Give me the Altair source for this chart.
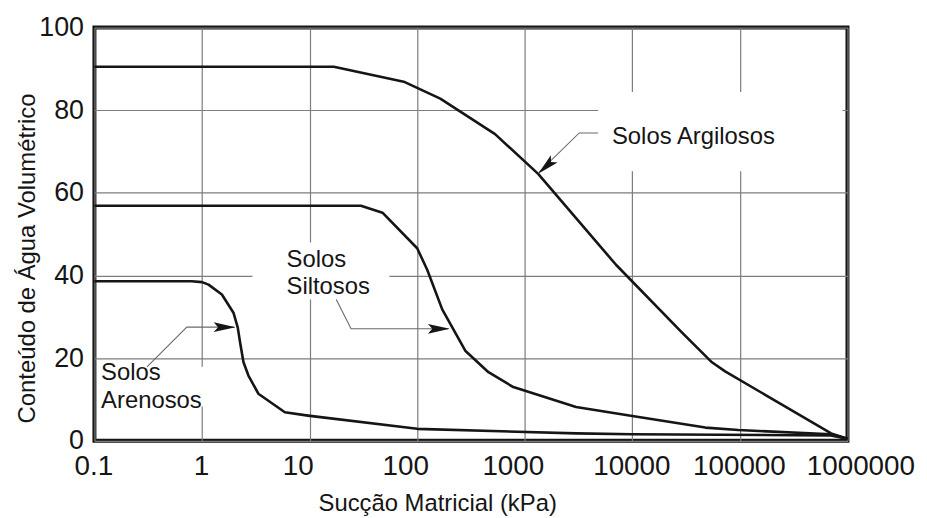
import altair as alt
import pandas as pd

# ---------------- data ----------------
arg_x = [0.1, 16.8, 75, 164, 530, 1333, 7050, 29000, 55000, 72900, 705000, 1000000]
arg_y = [90.5, 90.5, 86.9, 82.8, 74.2, 64.6, 42.6, 26.2, 19.0, 16.8, 1.8, 0.5]

sil_x = [0.1, 30, 47.6, 100, 124, 171, 280, 460, 783, 3000, 10000, 47700, 96900, 700000, 1000000]
sil_y = [56.9, 56.9, 55.2, 46.6, 41.4, 31.8, 21.8, 16.6, 13.0, 8.2, 6.0, 3.2, 2.6, 1.6, 0.5]

are_x = [0.1, 0.8, 1.0, 1.15, 1.53, 1.96, 2.15, 2.26, 2.43, 2.70, 3.34, 5.89, 9.66, 100, 3000, 10000, 700000, 1000000]
are_y = [38.6, 38.6, 38.4, 37.8, 35.4, 31.0, 27.4, 23.8, 19.0, 15.8, 11.4, 6.9, 6.1, 2.9, 1.8, 1.6, 1.3, 0.5]

x_ticks = [0.1, 1, 10, 100, 1000, 10000, 100000, 1000000]
y_ticks = [0, 20, 40, 60, 80, 100]

label_texts = ["Solos Argilosos", "Solos\nSiltosos", "Solos\nArenosos"]
label_x = [6470, 6.1, 0.1153]
label_y = [71.8, 42.1, 14.6]

# white boxes behind the labels (they interrupt the grid)
box_x1 = [4810, 2.94, 0.111]
box_x2 = [897000, 55.2, 1.04]
box_y1 = [65.2, 34.2, 8.3]
box_y2 = [84.4, 48.0, 17.9]

# leader lines
lead_names = ["Argilosos", "Argilosos", "Argilosos",
              "Siltosos", "Siltosos", "Siltosos",
              "Arenosos", "Arenosos", "Arenosos"]
lead_x = [4810, 3210, 1360, 17.7, 24.3, 195, 0.308, 0.722, 2.0]
lead_y = [74.5, 74.5, 65.0, 34.2, 27.1, 27.1, 17.9, 27.5, 27.5]

# arrow tips
tip_x = [1334, 201, 2.05]
tip_y = [64.6, 27.1, 27.5]
tip_angle = [137, 0, 0]

# ---------------- tables ----------------
rows = []
for name, xs, ys in [("Argilosos", arg_x, arg_y), ("Siltosos", sil_x, sil_y), ("Arenosos", are_x, are_y)]:
    for i, (a, b) in enumerate(zip(xs, ys)):
        rows.append({"serie": name, "i": i, "x": a, "y": b})
curves = pd.DataFrame(rows)

leaders = pd.DataFrame({"lead": lead_names, "i": list(range(len(lead_x))), "x": lead_x, "y": lead_y})
boxes = pd.DataFrame({"x": box_x1, "x2": box_x2, "y": box_y1, "y2": box_y2})
tips = pd.DataFrame({"x": tip_x, "y": tip_y, "ang": tip_angle})
labels = pd.DataFrame({"t": label_texts, "x": label_x, "y": label_y})

FONT = "Liberation Sans"
INK = "#151515"

x_scale = alt.Scale(type="log", domain=[0.1, 1000000], nice=False)
y_scale = alt.Scale(domain=[0, 100], nice=False, zero=True)

x_axis = alt.Axis(
    values=x_ticks, format="~f", title="Sucção Matricial (kPa)",
    labelFontSize=28, labelPadding=12, labelFont=FONT, labelColor=INK,
    labelOffset={"condition": [{"test": "datum.value == 1000000", "value": 13},
                               {"test": "datum.value >= 10 && datum.value <= 1000", "value": -12}],
                 "value": -1},
    titleFontSize=24, titleFont=FONT, titleColor=INK, titleFontWeight="normal",
    titleX=345, titleY=70, titleAlign="center", titleBaseline="alphabetic",
    labelFlush=False, labelOverlap=False,
)
y_axis = alt.Axis(
    values=y_ticks, title="Conteúdo de Água Volumétrico",
    labelFontSize=27, labelPadding=11, labelFont=FONT, labelColor=INK,
    titleFontSize=24, titleFont=FONT, titleColor=INK, titleFontWeight="normal",
    titleX=-60, titleY=232, titleAlign="center", titleBaseline="alphabetic", titleAngle=-90,
    labelFlush=False, labelOverlap=False,
)

X = alt.X("x:Q", scale=x_scale, axis=x_axis)
Y = alt.Y("y:Q", scale=y_scale, axis=y_axis)

box_layer = alt.Chart(boxes).mark_rect(fill="white", stroke=None, opacity=1).encode(
    x=X, x2="x2:Q", y=Y, y2="y2:Q"
)

lead_layer = alt.Chart(leaders).mark_line(color="#6a6a6a", strokeWidth=1.1).encode(
    x=X, y=Y, detail="lead:N", order="i:Q"
)

curve_layer = alt.Chart(curves).mark_line(color=INK, strokeWidth=2.6, strokeJoin="round").encode(
    x=X, y=Y, detail="serie:N", order="i:Q"
)

tip_layer = alt.Chart(tips).mark_point(
    shape="M0,0 L-2,-0.45 L-1.6,0 L-2,0.45 Z", filled=True, size=484, color=INK,
    opacity=1, strokeWidth=0
).encode(x=X, y=Y, angle=alt.Angle("ang:Q", scale=None))

text_layer = alt.Chart(labels).mark_text(
    align="left", baseline="alphabetic", fontSize=24, font=FONT, color=INK,
    lineBreak="\n", lineHeight=27.5
).encode(x=X, y=Y, text="t:N")

chart = alt.layer(box_layer, lead_layer, curve_layer, tip_layer, text_layer).properties(
    width=758, height=416,
    autosize=alt.AutoSizeParams(type="none"),
    padding={"left": 87, "top": 18, "right": 72, "bottom": 74},
    background="white",
).configure_view(
    stroke=INK, strokeWidth=4
).configure_axis(
    domain=False, ticks=False, tickSize=0, grid=True,
    gridColor="#7d7d7d", gridWidth=1.2, gridOpacity=1,
)

chart.save("out.html", embed_options={"renderer": "svg", "actions": False})
